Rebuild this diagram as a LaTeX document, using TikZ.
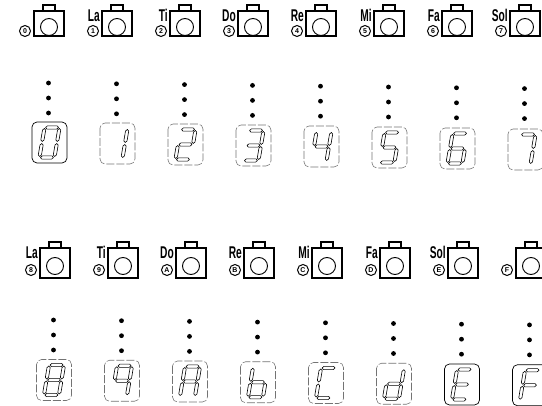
\documentclass[tikz,border=0pt]{standalone}
\usepackage{fontspec}
\setmainfont{Liberation Sans}
\usepackage{graphicx}
\usepackage{tikz}
\usetikzlibrary{positioning}

\tikzset{
  keybox/.style={draw, line width=1.4pt},
  keylabel/.style={font=\fontsize{17}{17}\selectfont\bfseries, anchor=base east, inner sep=0pt},
  numlabel/.style={draw, circle, line width=1pt, minimum size=11pt, inner sep=0pt, font=\fontsize{7}{7}\selectfont\bfseries},
  segline/.style={line width=0.6pt, line join=round},
  litframe/.style={draw, rounded corners=5pt, line width=0.7pt},
  dimframe/.style={draw=black!55, rounded corners=5pt, line width=0.55pt, dash pattern=on 8pt off 2pt},
}

% one segment, horizontal / vertical (local units, y up)
\newcommand{\segh}[3]{\draw[segline] (#1,#3) -- ++(1.6,1.6) -- (#2-1.6,#3+1.6) -- (#2,#3) -- (#2-1.6,#3-1.6) -- (#1+1.6,#3-1.6) -- cycle;}
\newcommand{\segv}[3]{\draw[segline] (#1,#2) -- ++(1.6,-1.6) -- (#1+1.6,#3+1.6) -- (#1,#3) -- (#1-1.6,#3+1.6) -- (#1-1.6,#2-1.6) -- cycle;}
\newcommand{\dsega}{\segh{-6.5}{6.5}{15}}
\newcommand{\dsegb}{\segv{7.5}{14}{1}}
\newcommand{\dsegc}{\segv{7.5}{-1}{-14}}
\newcommand{\dsegd}{\segh{-6.5}{6.5}{-15}}
\newcommand{\dsege}{\segv{-7.5}{-1}{-14}}
\newcommand{\dsegf}{\segv{-7.5}{14}{1}}
\newcommand{\dsegg}{\segh{-6.5}{6.5}{0}}

\begin{document}
\begin{tikzpicture}[x=1pt, y=-1pt]
    \useasboundingbox (0,0) rectangle (542,406);
    \clip (0,0) rectangle (542,406);

    % keys, upper row
    \foreach \i/\nm/\lb in {0/{}/0, 1/La/1, 2/Ti/2, 3/Do/3, 4/Re/4, 5/Mi/5, 6/Fa/6, 7/Sol/7} {
        \pgfmathsetmacro\cx{49+68*\i}
        \draw[keybox] (\cx-15,11) rectangle (\cx+15,36);
        \draw[keybox] (\cx-6,11) -- (\cx-6,5) -- (\cx+6,5) -- (\cx+6,11);
        \draw[line width=0.9pt] (\cx,27) circle (8.5);
        \node[numlabel] (num\lb) at (\cx-24,31) {\lb};
        \node[keylabel] (name\lb) at (\cx-17,22) {\scalebox{0.6}[1]{\nm}};
    }

    % keys, lower row
    \foreach \i/\nm/\lb in {0/La/8, 1/Ti/9, 2/Do/A, 3/Re/B, 4/Mi/C, 5/Fa/D, 6/Sol/E, 7/{}/F} {
        \pgfmathsetmacro\cx{55+68*\i}
        \draw[keybox] (\cx-15,248) rectangle (\cx+15,278);
        \draw[keybox] (\cx-6,248) -- (\cx-6,242) -- (\cx+6,242) -- (\cx+6,248);
        \draw[line width=0.9pt] (\cx,266) circle (8.5);
        \node[numlabel] (num\lb) at (\cx-24,270) {\lb};
        \node[keylabel] (name\lb) at (\cx-17,259) {\scalebox{0.6}[1]{\nm}};
    }

    % displays, upper row
    \foreach \i/\segs/\fr in {0/{a,b,c,d,e,f}/litframe, 1/{b,c}/dimframe, 2/{a,b,g,e,d}/dimframe,
        3/{a,b,g,c,d}/dimframe, 4/{f,g,b,c}/dimframe, 5/{a,f,g,c,d}/dimframe,
        6/{a,f,g,e,d,c}/dimframe, 7/{a,b,c}/dimframe} {
        \pgfmathsetmacro\cx{49+68*\i}
        \pgfmathsetmacro\dy{83+0.8*\i}
        \pgfmathsetmacro\fy{142.5+\i}
        \foreach \k in {0,1,2}
            \fill (\cx-0.5,\dy+15*\k) circle (2.4);
        \draw[\fr] (\cx+0.5-17.5,\fy-20.5) rectangle (\cx+0.5+17.5,\fy+20.5);
        \begin{scope}[shift={(\cx+0.5,\fy)}, x=1pt, y=1pt, xslant=0.17]
            \foreach \s in \segs {\csname dseg\s\endcsname}
        \end{scope}
    }

    % displays, lower row
    \foreach \i/\segs/\fr in {0/{a,b,c,d,e,f,g}/dimframe, 1/{a,b,c,f,g}/dimframe, 2/{a,b,c,e,f,g}/dimframe,
        3/{f,e,g,c,d}/dimframe, 4/{a,f,e,d}/dimframe, 5/{b,c,g,e,d}/dimframe,
        6/{a,f,g,e,d}/litframe, 7/{a,f,g,e}/litframe} {
        \pgfmathsetmacro\cx{55+68*\i}
        \pgfmathsetmacro\dy{320+0.7*\i}
        \pgfmathsetmacro\fy{380+0.75*\i}
        \foreach \k in {0,1,2}
            \fill (\cx-1.5,\dy+15*\k) circle (2.4);
        \draw[\fr] (\cx-1-17.5,\fy-20.5) rectangle (\cx-1+17.5,\fy+20.5);
        \begin{scope}[shift={(\cx-1,\fy)}, x=1pt, y=1pt, xslant=0.17]
            \foreach \s in \segs {\csname dseg\s\endcsname}
        \end{scope}
    }
\end{tikzpicture}
\end{document}
